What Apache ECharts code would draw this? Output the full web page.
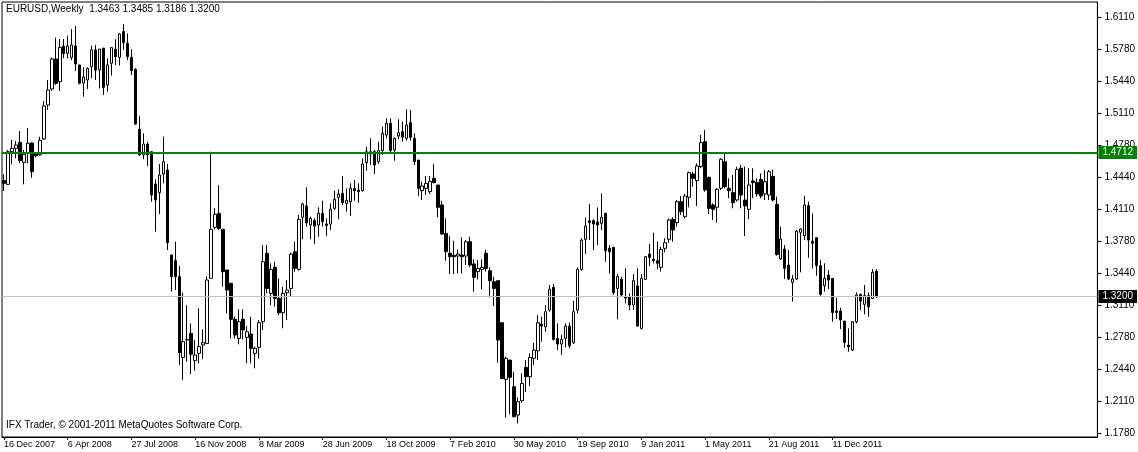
<!DOCTYPE html>
<html><head><meta charset="utf-8">
<script src="https://cdn.jsdelivr.net/npm/echarts@6/dist/echarts.min.js"></script>
<style>html,body{margin:0;padding:0;background:#fff}#c{width:1138px;height:452px}</style>
</head><body><div id="c"></div>
<script>
const symbolTitle = 'EURUSD,Weekly  1.3463 1.3485 1.3186 1.3200';
const copyright = 'IFX Trader, \u00a9 2001-2011 MetaQuotes Software Corp.';
const dateLabels = ['16 Dec 2007','6 Apr 2008','27 Jul 2008','16 Nov 2008','8 Mar 2009','28 Jun 2009','18 Oct 2009','7 Feb 2010','30 May 2010','19 Sep 2010','9 Jan 2011','1 May 2011','21 Aug 2011','11 Dec 2011'];
const priceLabels = ['1.1780','1.2110','1.2440','1.2780','1.3110','1.3440','1.3780','1.4110','1.4440','1.4780','1.5110','1.5440','1.5780','1.6110'];
const resistanceLevel = 1.4712;
const lastPrice = 1.3200;

const opens = [1.4407,1.4368,1.4708,1.4743,1.4805,1.4597,1.4691,1.4799,1.4684,1.4674,1.4840,1.5194,1.5361,1.5673,1.5437,1.5805,1.5732,1.5690,1.5808,1.5611,
1.5423,1.5454,1.5593,1.5767,1.5558,1.5784,1.5402,1.5628,1.5774,1.5690,1.5958,1.5836,1.5690,1.5565,1.4941,1.4674,1.4788,1.4708,1.4372,1.4282,
1.4476,1.4517,1.3633,1.3574,1.3407,1.2567,1.2748,1.2817,1.2533,1.2609,1.2696,1.2713,1.3390,1.3921,1.4066,1.3900,1.3476,1.3338,1.2963,1.2765,
1.2963,1.2775,1.2810,1.2609,1.2671,1.2938,1.3650,1.3233,1.3504,1.3181,1.3032,1.3240,1.3285,1.3667,1.3483,1.4025,1.4143,1.3945,1.3990,1.3945,
1.4066,1.3955,1.3955,1.4118,1.4233,1.4274,1.4170,1.4188,1.4326,1.4309,1.4302,1.4594,1.4708,1.4708,1.4604,1.4719,1.4882,1.5003,1.4726,1.4871,
1.4916,1.4847,1.5010,1.4847,1.4621,1.4302,1.4326,1.4292,1.4431,1.4361,1.4153,1.3858,1.3650,1.3629,1.3622,1.3632,1.3622,1.3771,1.3539,1.3459,
1.3483,1.3650,1.3469,1.3355,1.3365,1.2928,1.2338,1.2539,1.2262,1.1967,1.2116,1.2463,1.2366,1.2557,1.2636,1.2914,1.2886,1.3060,1.3296,1.2765,
1.2706,1.2765,1.2893,1.2720,1.3060,1.3483,1.3795,1.3990,1.3990,1.3976,1.3962,1.4066,1.3702,1.3712,1.3285,1.3379,1.3199,1.3192,1.3112,1.3310,
1.2869,1.3379,1.3643,1.3587,1.3573,1.3504,1.3702,1.3796,1.4004,1.3969,1.4188,1.4032,1.4233,1.4476,1.4406,1.4552,1.4812,1.4441,1.4153,1.4129,
1.4327,1.4604,1.4327,1.4282,1.4205,1.4535,1.4205,1.4108,1.4403,1.4386,1.4420,1.4268,1.4257,1.4450,1.4160,1.3591,1.3695,1.3528,1.3348,1.3383,
1.3868,1.3834,1.4146,1.3778,1.3813,1.3521,1.3313,1.3424,1.3389,1.3049,1.3049,1.2945,1.2695,1.2643,1.2938,1.3223,1.3119,1.3209,1.3181,1.3463];
const highs = [1.4472,1.4726,1.4830,1.4819,1.4923,1.4726,1.4951,1.4802,1.4701,1.4864,1.5236,1.5454,1.5687,1.5895,1.5881,1.5881,1.5916,1.5985,1.6016,1.5611,
1.5586,1.5586,1.5812,1.5819,1.5777,1.5791,1.5680,1.5794,1.5878,1.5940,1.6037,1.5940,1.5774,1.5576,1.5080,1.4899,1.4812,1.4708,1.4420,1.4580,
1.4865,1.4580,1.3633,1.3771,1.3518,1.3241,1.3112,1.2921,1.2748,1.3078,1.2859,1.3407,1.4708,1.4119,1.4361,1.3900,1.3476,1.3338,1.2991,1.3067,
1.3067,1.2893,1.2991,1.2678,1.2956,1.3737,1.3737,1.3546,1.3563,1.3390,1.3303,1.3372,1.3657,1.3771,1.4049,1.4177,1.4337,1.4032,1.4014,1.4129,
1.4198,1.4014,1.4170,1.4302,1.4316,1.4455,1.4326,1.4379,1.4413,1.4379,1.4639,1.4760,1.4847,1.4726,1.4812,1.4968,1.5055,1.5055,1.4857,1.5045,
1.5020,1.5149,1.5142,1.4899,1.4621,1.4396,1.4455,1.4455,1.4580,1.4361,1.4198,1.4014,1.3830,1.3781,1.3691,1.3816,1.3788,1.3823,1.3587,1.3580,
1.3587,1.3684,1.3504,1.3407,1.3365,1.2928,1.2574,1.2539,1.2418,1.2151,1.2400,1.2539,1.2609,1.2720,1.3008,1.2990,1.3112,1.3320,1.3330,1.2921,
1.2800,1.2921,1.2928,1.3157,1.3504,1.3806,1.4024,1.4163,1.4004,1.4128,1.4274,1.4073,1.3736,1.3719,1.3434,1.3407,1.3493,1.3233,1.3434,1.3493,
1.3434,1.3622,1.3747,1.3865,1.3771,1.3719,1.3806,1.4014,1.4025,1.4205,1.4247,1.4268,1.4500,1.4500,1.4587,1.4882,1.4934,1.4448,1.4171,1.4327,
1.4639,1.4691,1.4431,1.4465,1.4552,1.4570,1.4552,1.4535,1.4535,1.4431,1.4483,1.4518,1.4518,1.4520,1.4240,1.3927,1.3736,1.3684,1.3424,1.3893,
1.3910,1.4250,1.4188,1.4066,1.3813,1.3580,1.3546,1.3476,1.3389,1.3188,1.3084,1.2945,1.2869,1.2945,1.3244,1.3233,1.3320,1.3244,1.3487,1.3485];
const lows = [1.4299,1.4360,1.4576,1.4639,1.4587,1.4368,1.4587,1.4438,1.4646,1.4667,1.4830,1.5142,1.5340,1.5402,1.5340,1.5680,1.5680,1.5663,1.5548,1.5409,
1.5281,1.5361,1.5472,1.5454,1.5368,1.5298,1.5333,1.5500,1.5610,1.5604,1.5767,1.5663,1.5506,1.4986,1.4663,1.4629,1.4559,1.4188,1.3876,1.4059,
1.4379,1.3685,1.3251,1.3268,1.2488,1.2332,1.2522,1.2394,1.2429,1.2505,1.2547,1.2706,1.3390,1.3900,1.3893,1.3303,1.3025,1.2765,1.2765,1.2703,
1.2755,1.2505,1.2505,1.2453,1.2557,1.2852,1.3233,1.3112,1.3095,1.3008,1.2869,1.2956,1.3199,1.3459,1.3469,1.3796,1.3928,1.3796,1.3747,1.3823,
1.3928,1.3830,1.3893,1.4101,1.4004,1.4153,1.4084,1.4038,1.4198,1.4177,1.4292,1.4510,1.4569,1.4476,1.4580,1.4673,1.4847,1.4684,1.4614,1.4837,
1.4812,1.4823,1.4823,1.4569,1.4247,1.4205,1.4257,1.4267,1.4379,1.4025,1.3840,1.3573,1.3434,1.3434,1.3441,1.3441,1.3528,1.3511,1.3251,1.3379,
1.3275,1.3459,1.3192,1.3101,1.2511,1.2338,1.1940,1.1975,1.1942,1.1880,1.2095,1.2209,1.2269,1.2487,1.2539,1.2730,1.2834,1.3042,1.2741,1.2643,
1.2591,1.2671,1.2661,1.2706,1.3025,1.3469,1.3643,1.3788,1.3684,1.3736,1.3893,1.3563,1.3441,1.3216,1.2963,1.3199,1.3129,1.3060,1.3060,1.2886,
1.2858,1.3372,1.3518,1.3546,1.3483,1.3460,1.3660,1.3761,1.3772,1.3928,1.4049,1.4014,1.4129,1.4344,1.4143,1.4535,1.4292,1.4059,1.3997,1.3969,
1.4309,1.4327,1.4223,1.4118,1.4188,1.4118,1.3830,1.4004,1.4223,1.4240,1.4223,1.4205,1.4205,1.4188,1.3625,1.3580,1.3383,1.3372,1.3147,1.3372,
1.3452,1.3788,1.3605,1.3494,1.3417,1.3209,1.3251,1.3278,1.2938,1.2966,1.2862,1.2668,1.2626,1.2633,1.2921,1.3060,1.3015,1.2990,1.3174,1.3186];
const closes = [1.4379,1.4708,1.4743,1.4778,1.4615,1.4681,1.4795,1.4500,1.4667,1.4826,1.5184,1.5350,1.5673,1.5420,1.5794,1.5729,1.5808,1.5819,1.5621,1.5420,
1.5486,1.5576,1.5767,1.5558,1.5777,1.5378,1.5611,1.5791,1.5697,1.5933,1.5843,1.5697,1.5552,1.4996,1.4674,1.4788,1.4674,1.4257,1.4205,1.4465,
1.4604,1.3761,1.3407,1.3407,1.2616,1.2731,1.2755,1.2599,1.2592,1.2679,1.2720,1.3372,1.3900,1.4056,1.3910,1.3459,1.3268,1.2963,1.2800,1.2938,
1.2852,1.2834,1.2661,1.2661,1.2928,1.3563,1.3285,1.3483,1.3181,1.3032,1.3233,1.3268,1.3643,1.3494,1.4004,1.4163,1.3969,1.4014,1.3934,1.4066,
1.3980,1.3941,1.4108,1.4212,1.4267,1.4177,1.4205,1.4326,1.4302,1.4292,1.4580,1.4708,1.4684,1.4569,1.4719,1.4899,1.5003,1.4719,1.4847,1.4906,
1.4857,1.4986,1.4857,1.4604,1.4326,1.4351,1.4379,1.4396,1.4386,1.4129,1.3851,1.3667,1.3615,1.3615,1.3643,1.3615,1.3771,1.3528,1.3400,1.3493,
1.3504,1.3493,1.3365,1.3285,1.2747,1.2348,1.2557,1.2359,1.1949,1.2106,1.2296,1.2366,1.2567,1.2643,1.2928,1.2893,1.3042,1.3275,1.2754,1.2706,
1.2754,1.2893,1.2685,1.3042,1.3483,1.3788,1.3934,1.3969,1.3955,1.3945,1.4024,1.3677,1.3667,1.3240,1.3407,1.3216,1.3185,1.3112,1.3365,1.2893,
1.3389,1.3615,1.3608,1.3573,1.3546,1.3691,1.3761,1.3997,1.3893,1.4188,1.4084,1.4247,1.4490,1.4431,1.4559,1.4802,1.4309,1.4118,1.4108,1.4316,
1.4629,1.4344,1.4302,1.4177,1.4524,1.4257,1.4143,1.4361,1.4386,1.4268,1.4247,1.4396,1.4500,1.4205,1.3639,1.3799,1.3494,1.3383,1.3383,1.3882,
1.3903,1.4153,1.3788,1.3754,1.3521,1.3223,1.3389,1.3372,1.3035,1.3035,1.2956,1.2723,1.2678,1.2938,1.3216,1.3153,1.3209,1.3094,1.3452,1.3200];

const slotCount = 275;      // weekly slots across the plot incl. empty right margin
const labelEvery = 16;
const tickStep = (1.6110 - 1.1780) / 13;
const tickValues = priceLabels.map((_, i) => 1.1780 + i * tickStep);
const categories = Array.from({length: slotCount}, (_, i) => String(i));
const candles = opens.map((o, i) => [o, closes[i], lows[i], highs[i]]);

const FONT = 'Liberation Sans';
const chart = echarts.init(document.getElementById('c'), null, {renderer: 'canvas'});
chart.setOption({
  animation: false,
  backgroundColor: '#ffffff',
  textStyle: {fontFamily: FONT},
  grid: {left: 2, right: 38, top: 2, bottom: 15, show: true, borderColor: '#000', borderWidth: 1, backgroundColor: 'transparent'},
  xAxis: {
    type: 'category', data: categories, boundaryGap: true,
    axisLine: {show: true, lineStyle: {color: '#000', width: 1}},
    axisTick: {show: true, alignWithLabel: true, length: 3, lineStyle: {color: '#000'},
      interval: (i) => i % labelEvery === 0 && i / labelEvery < dateLabels.length},
    axisLabel: {show: true, align: 'left', margin: 3, color: '#000', fontSize: 9, fontFamily: FONT,
      interval: (i) => i % labelEvery === 0 && i / labelEvery < dateLabels.length,
      formatter: (v, i) => dateLabels[i / labelEvery] || ''},
    splitLine: {show: false}
  },
  yAxis: {
    type: 'value', position: 'right', scale: true,
    min: 1.17382, max: 1.62661,
    axisLine: {show: true, lineStyle: {color: '#000', width: 1}},
    axisTick: {show: true, inside: false, length: 4, lineStyle: {color: '#000'}, customValues: tickValues},
    axisLabel: {show: true, margin: 7, color: '#000', fontSize: 10, fontFamily: FONT, customValues: tickValues,
      formatter: (v) => priceLabels[Math.round((v - 1.1780) / tickStep)] || ''},
    splitLine: {show: false}
  },
  series: [{
    type: 'candlestick',
    data: candles,
    barWidth: 3,
    itemStyle: {color: '#ffffff', color0: '#000000', borderColor: '#000000', borderColor0: '#000000', borderWidth: 1},
    markLine: {
      silent: true, symbol: ['none', 'none'], animation: false,
      data: [
        {yAxis: resistanceLevel, lineStyle: {color: '#008000', width: 2, type: 'solid'},
          label: {show: true, position: 'end', distance: 1, formatter: resistanceLevel.toFixed(4), color: '#fff', backgroundColor: '#008000', padding: [2, 4, 1, 4], fontSize: 10, fontFamily: FONT}},
        {yAxis: lastPrice, lineStyle: {color: '#c0c0c0', width: 1, type: 'solid'},
          label: {show: true, position: 'end', distance: 1, formatter: lastPrice.toFixed(4), color: '#fff', backgroundColor: '#000', padding: [2, 4, 1, 4], fontSize: 10, fontFamily: FONT}}
      ]
    }
  }],
  graphic: [
    {type: 'text', left: 6, top: 4, style: {text: symbolTitle, fill: '#000', font: '10px "Liberation Sans"'}},
    {type: 'text', left: 6, top: 420, style: {text: copyright, fill: '#000', font: '10px "Liberation Sans"'}}
  ]
});
</script>
</body></html>
